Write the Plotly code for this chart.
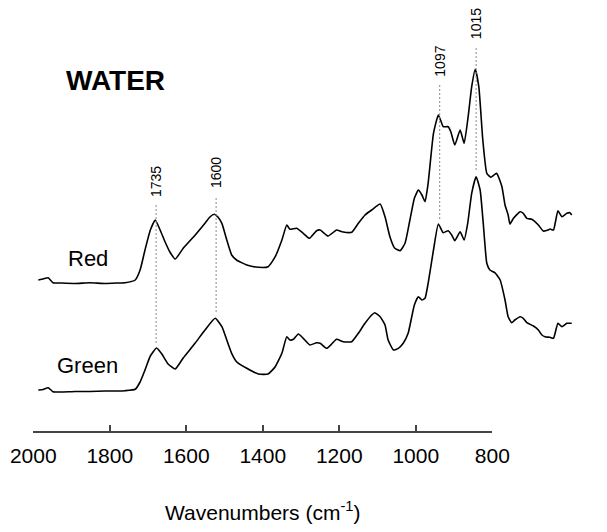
import plotly.graph_objects as go

# ---- data (wavenumber in cm-1, absorbance in arbitrary offset units) ----
red_wn = [2000, 1989, 1978, 1967, 1951, 1917, 1884, 1850, 1821, 1805, 1782, 1771, 1760, 1748,
          1737, 1726, 1715, 1704, 1692, 1674, 1647, 1625, 1614, 1604, 1596, 1587, 1576, 1565,
          1554, 1531, 1505, 1483, 1467, 1452, 1441, 1434, 1419, 1404, 1390, 1374, 1366, 1348,
          1329, 1317, 1295, 1280, 1265, 1250, 1231, 1220, 1209, 1198, 1186, 1175, 1164, 1154,
          1145, 1137, 1130, 1123, 1111, 1100, 1089, 1078, 1072, 1063, 1051, 1042, 1033, 1025,
          1017, 1009, 1000, 991, 982, 969, 957, 950, 943, 939, 931, 916, 909, 901, 890, 875,
          864, 853, 849, 841, 831, 822, 811, 804, 800]
red_abs = [1.51, 1.52, 1.533, 1.483, 1.48, 1.475, 1.482, 1.475, 1.48, 1.483, 1.51, 1.61, 1.81, 2.01,
           2.11, 2.01, 1.893, 1.79, 1.72, 1.827, 1.96, 2.077, 2.14, 2.167, 2.14, 2.077, 1.91, 1.76,
           1.71, 1.66, 1.637, 1.643, 1.743, 1.91, 2.06, 2.017, 2.027, 1.977, 1.927, 2.003, 2.01, 1.95,
           2.01, 1.993, 1.987, 2.077, 2.16, 2.21, 2.27, 2.143, 1.943, 1.827, 1.803, 1.877, 2.11, 2.327,
           2.41, 2.36, 2.293, 2.477, 2.977, 3.16, 3.043, 3.043, 2.993, 2.86, 3.01, 2.877, 3.143, 3.443,
           3.617, 3.443, 2.91, 2.577, 2.537, 2.577, 2.443, 2.26, 2.16, 2.07, 2.127, 2.193, 2.177, 2.127, 2.117, 2.06,
           2.0, 2.01, 2.02, 2.01, 2.203, 2.143, 2.177, 2.183, 2.16]

green_wn = [2000, 1989, 1978, 1967, 1951, 1917, 1884, 1850, 1821, 1805, 1782, 1771, 1760, 1748,
            1734, 1722, 1708, 1692, 1674, 1647, 1625, 1602, 1587, 1576, 1565, 1554, 1531, 1505,
            1483, 1467, 1452, 1441, 1434, 1426, 1415, 1404, 1389, 1374, 1366, 1351, 1340, 1329,
            1314, 1295, 1280, 1265, 1250, 1243, 1231, 1220, 1213, 1201, 1190, 1179, 1168, 1154,
            1145, 1137, 1130, 1123, 1111, 1100, 1089, 1078, 1070, 1063, 1051, 1042, 1034, 1025,
            1015, 1006, 999, 991, 984, 973, 961, 950, 943, 935, 928, 916, 909, 901, 886, 875,
            867, 860, 849, 841, 831, 822, 811, 800]
green_abs = [0.41, 0.415, 0.433, 0.393, 0.39, 0.395, 0.395, 0.40, 0.40, 0.403, 0.417, 0.49, 0.61, 0.75,
             0.83, 0.77, 0.67, 0.62, 0.73, 0.88, 1.01, 1.127, 1.043, 0.91, 0.777, 0.693, 0.627, 0.57,
             0.57, 0.643, 0.777, 0.943, 0.91, 0.917, 0.97, 0.927, 0.86, 0.883, 0.877, 0.827, 0.87, 0.917,
             0.893, 0.893, 0.977, 1.077, 1.16, 1.183, 1.143, 1.06, 0.91, 0.81, 0.827, 0.877, 0.977, 1.26,
             1.343, 1.31, 1.327, 1.477, 1.81, 2.07, 1.983, 2.003, 1.96, 1.903, 1.993, 1.91, 2.077, 2.377,
             2.543, 2.41, 2.077, 1.677, 1.61, 1.583, 1.51, 1.31, 1.143, 1.083, 1.11, 1.143, 1.127, 1.083, 1.05, 1.01,
             0.96, 0.943, 0.937, 0.927, 1.077, 1.043, 1.077, 1.077]

peak_wn = [1735, 1600, 1097, 1015]
peak_labels = ["1735", "1600", "1097", "1015"]
peak_line_top = [2.26, 2.33, 3.46, 3.83]
peak_line_bottom = [0.88, 1.19, 2.11, 2.59]
peak_label_y = [2.49, 2.58, 3.70, 4.07]

axis_ticks = [2000, 1800, 1600, 1400, 1200, 1000, 800]

W, H = 607, 532
FONT = "Liberation Sans, Arial, sans-serif"

fig = go.Figure()

for wn, ab in [(red_wn, red_abs), (green_wn, green_abs)]:
    fig.add_trace(go.Scatter(x=wn, y=ab, mode="lines", xaxis="x2", yaxis="y",
                             line=dict(color="black", width=1.6, shape="spline", smoothing=0.45),
                             showlegend=False, hoverinfo="skip"))

for wn, top, bot in zip(peak_wn, peak_line_top, peak_line_bottom):
    fig.add_trace(go.Scatter(x=[wn, wn], y=[top, bot], mode="lines", xaxis="x2", yaxis="y",
                             line=dict(color="#8a8a8a", width=1, dash="2px,2px"),
                             showlegend=False, hoverinfo="skip"))

# invisible trace to register the visible (labelled) axis subplot
fig.add_trace(go.Scatter(x=axis_ticks, y=[0.5] * len(axis_ticks), xaxis="x", yaxis="y2",
                         mode="markers", marker=dict(opacity=0, size=1),
                         showlegend=False, hoverinfo="skip"))

annotations = []
for wn, lab, yy in zip(peak_wn, peak_labels, peak_label_y):
    annotations.append(dict(x=wn, y=yy, xref="x2", yref="y", text=lab, showarrow=False,
                            textangle=-90, font=dict(family=FONT, size=14, color="black"),
                            xanchor="center", yanchor="middle"))

annotations += [
    dict(x=115 / W, y=1 - 80 / H, xref="paper", yref="paper", text="<b>WATER</b>", showarrow=False,
         font=dict(family=FONT, size=28, color="black"), xanchor="center", yanchor="middle"),
    dict(x=87.5 / W, y=1 - 258 / H, xref="paper", yref="paper", text="Red", showarrow=False,
         font=dict(family=FONT, size=22, color="black"), xanchor="center", yanchor="middle"),
    dict(x=87.5 / W, y=1 - 365 / H, xref="paper", yref="paper", text="Green", showarrow=False,
         font=dict(family=FONT, size=22, color="black"), xanchor="center", yanchor="middle"),
    dict(x=263 / W, y=1 - 511 / H, xref="paper", yref="paper",
         text="Wavenumbers (cm<sup>-1</sup>)", showarrow=False,
         font=dict(family=FONT, size=21, color="black"), xanchor="center", yanchor="middle"),
]

fig.update_layout(
    width=W, height=H,
    margin=dict(l=0, r=0, t=0, b=0, pad=0, autoexpand=False),
    paper_bgcolor="white", plot_bgcolor="rgba(0,0,0,0)",
    xaxis=dict(domain=[33.3 / W, 492.3 / W], range=[2000, 800], anchor="y2",
               showline=True, linecolor="#444", linewidth=1.5, automargin=False,
               ticks="inside", ticklen=6, tickcolor="#444", tickwidth=1.5,
               tickvals=axis_ticks, ticktext=[str(t) for t in axis_ticks],
               tickfont=dict(family=FONT, size=21, color="black"), ticklabelstandoff=5,
               showgrid=False, zeroline=False, fixedrange=True),
    yaxis2=dict(domain=[(H - 431) / H, 1], range=[0, 1], anchor="x", visible=False,
                showgrid=False, zeroline=False, automargin=False),
    xaxis2=dict(domain=[0, 1], range=[2086.2, 720.6], anchor="y", visible=False,
                showgrid=False, zeroline=False, automargin=False),
    yaxis=dict(domain=[0, 1], range=[-1.01, 4.31], anchor="x2", visible=False,
               showgrid=False, zeroline=False, automargin=False),
    annotations=annotations,
)

fig.write_html("out.html")
